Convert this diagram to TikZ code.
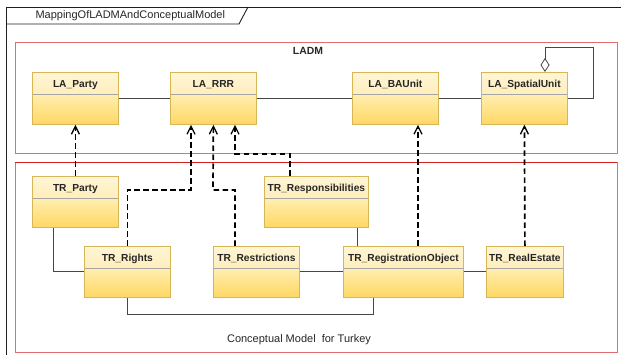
\documentclass[tikz,border=0pt]{standalone}
\usepackage{fontspec}
\setmainfont{Liberation Sans}
\usetikzlibrary{arrows.meta,calc}
\definecolor{framecol}{RGB}{30,30,30}
\definecolor{pkgred}{RGB}{228,110,110}
\definecolor{pkgredtop}{RGB}{210,30,30}
\definecolor{clsborder}{RGB}{214,182,86}
\definecolor{hdtop}{RGB}{255,245,214}
\definecolor{hdbot}{RGB}{255,229,150}
\definecolor{bdtop}{RGB}{255,238,175}
\definecolor{bdbot}{RGB}{255,216,100}
\definecolor{dividercol}{RGB}{165,165,165}
\definecolor{assoccol}{RGB}{70,70,70}
\tikzset{
  umlcls/.style={draw=clsborder, line width=0.8pt, rectangle, anchor=north west,
    inner sep=0pt, minimum height=#1, text height=15pt, text depth=#1-15pt,
    font=\fontsize{10.2}{12}\selectfont\bfseries, text=black!85,
    path picture={
      \shade[top color=hdtop, bottom color=hdbot]
        (path picture bounding box.north west) rectangle ([yshift=-22pt]path picture bounding box.north east);
      \shade[top color=bdtop, bottom color=bdbot]
        ([yshift=-22pt]path picture bounding box.north west) rectangle (path picture bounding box.south east);
      \draw[dividercol, line width=0.8pt]
        ([yshift=-22pt]path picture bounding box.north west) -- ([yshift=-22pt]path picture bounding box.north east);
    }},
  umlcls/.default=52pt,
  pkgbox/.style={draw=pkgred, line width=0.9pt},
  assoc/.style={draw=assoccol, line width=0.8pt},
  dep/.style={draw=black, line width=1.7pt, dash pattern=on 5.5pt off 3.5pt,
    -{Straight Barb[length=8pt,width=8pt,line width=1.3pt]}},
  lbl/.style={font=\fontsize{11}{13}\selectfont, text=black!85},
  lblb/.style={font=\fontsize{10.4}{12}\selectfont\bfseries, text=black!85}
}
\begin{document}
\begin{tikzpicture}[x=1pt,y=-1pt]
\useasboundingbox (0,0) rectangle (621,355);
% outer frame
\draw[framecol, line width=0.9pt] (6,7) rectangle (640,380);
\draw[framecol, line width=0.9pt] (6,24) -- (239,24) -- (248,7);
\node[lbl, anchor=west] (title) at (32,16) {MappingOfLADMAndConceptualModel};
% packages
\draw[pkgbox] (15,42) rectangle (617,153);
\draw[pkgbox] (15,162) rectangle (617,352);
\draw[pkgredtop, line width=0.8pt] (15,162) -- (617,162);
\node[lblb] (ladm) at (308,51) {LADM};
\node[lbl] (cmt) at (299,340) {Conceptual Model~ for Turkey};
% LADM classes
\node[umlcls, minimum width=86pt] (lap) at (32,72) {LA\_Party};
\node[umlcls, minimum width=86pt] (larrr) at (170,72) {LA\_RRR};
\node[umlcls, minimum width=86pt] (laba) at (352,72) {LA\_BAUnit};
\node[umlcls, minimum width=86pt] (lasu) at (481,72) {LA\_SpatialUnit};
% TR classes
\node[umlcls=51pt, minimum width=86pt] (trp) at (32,176) {TR\_Party};
\node[umlcls=51pt, minimum width=104pt] (trresp) at (264,176) {TR\_Responsibilities};
\node[umlcls=51pt, minimum width=86pt] (trri) at (84,246) {TR\_Rights};
\node[umlcls=51pt, minimum width=86pt] (trres) at (213,246) {TR\_Restrictions};
\node[umlcls=51pt, minimum width=120pt] (treg) at (343,246) {TR\_RegistrationObject};
\node[umlcls=51pt, minimum width=77pt] (trre) at (486,246) {TR\_RealEstate};
% LADM associations
\draw[assoc] (lap.east) -- (larrr.west);
\draw[assoc] (larrr.east) -- (laba.west);
\draw[assoc] (laba.east) -- (lasu.west);
\coordinate (agg) at (545,47);
\coordinate (aggr) at (593,47);
\draw[assoc, -{Diamond[open,length=14pt,width=9pt,line width=0.8pt]}]
  (lasu.east) -| (aggr) -- (agg) -- (lasu.north -| agg);
% TR associations
\coordinate (c53) at (53,0);
\coordinate (c357) at (357,0);
\coordinate (c314) at (373,314);
\draw[assoc] (trp.south -| c53) |- (trri.west);
\draw[assoc] (trres.east) -- (treg.west);
\draw[assoc] (trresp.south -| c357) -- (treg.north -| c357);
\draw[assoc] (treg.east) -- (trre.west);
\draw[assoc] (trri.south) |- (c314) -- (treg.south -| c314);
% dependencies
\coordinate (j1) at (191,190);
\coordinate (j2) at (235,190);
\coordinate (j2b) at (213,190);
\coordinate (j3) at (290,154);
\coordinate (j3b) at (235,154);
\coordinate (x418) at (418,0);
\draw[dep] (trp.north) -- (lap.south);
\draw[dep] (trri.north) |- (j1) -- (larrr.south -| j1);
\draw[dep] (trres.north -| j2) -- (j2) -- (j2b) -- (larrr.south);
\draw[dep] (trresp.north -| j3) -- (j3) -- (j3b) -- (larrr.south -| j3b);
\draw[dep] (treg.north -| x418) -- (laba.south -| x418);
\draw[dep] (trre.north) -- (lasu.south);
\end{tikzpicture}
\end{document}
